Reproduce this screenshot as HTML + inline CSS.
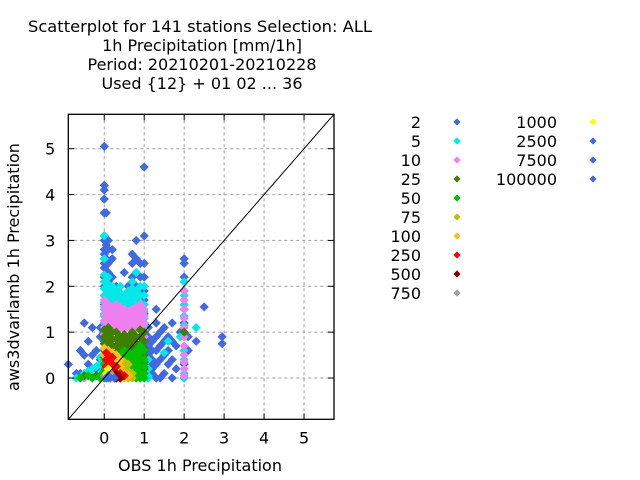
<!DOCTYPE html>
<html><head><meta charset="utf-8"><style>
html,body{margin:0;padding:0;background:#fff;}
svg{display:block;font-family:"DejaVu Sans","Liberation Sans",sans-serif;}
</style></head><body>
<svg id="chart" width="640" height="480" viewBox="0 0 640 480" xmlns="http://www.w3.org/2000/svg">
<g font-size="16" text-anchor="middle" fill="#000">
<text x="200" y="32" textLength="344" lengthAdjust="spacingAndGlyphs">Scatterplot for  141 stations Selection: ALL</text>
<text x="202" y="51">1h Precipitation [mm/1h]</text>
<text x="202" y="70">Period: 20210201-20210228</text>
<text x="202" y="89">Used {12} + 01 02 ... 36</text>
</g>
<g id="grid"></g>
<g id="marks"></g>
<g id="axes"></g>
<g id="legend"></g>
<text x="200" y="471" font-size="16" text-anchor="middle">OBS 1h Precipitation</text>
<text x="0" y="0" font-size="16" text-anchor="middle" transform="translate(19,267) rotate(-90)">aws3dvarlamb 1h Precipitation</text>
</svg>
<script>
const xTicks = [0,1,2,3,4,5];
const yTicks = [0,1,2,3,4,5];
const seriesLabels = ["2","5","10","25","50","75","100","250","500","750","1000","2500","7500","100000"];
const s2 = [[0,[5.05,4.2,4.1,3.9,3.6,3.6,3.1,3.0,2.8,2.7,2.6,2.5,2.4,2.2,2.0,1.8,1.6,1.4,1.2,1.0,0.8,0.6,0.4,0.2,0]],[0.05,[3.6,2.9,2.6]],[0.1,[3.0,2.8,2.5,2.3,2.1,1.9,1.7,1.5,1.3,0.2,0.1]],[0.2,[2.8,2.6,2.2,1.9,1.6,1.2]],[0.3,[2.0,1.7,1.5,1.3]],[0.5,[2.3,1.8,1.6,1.4]],[0.6,[2.0,1.7,1.5]],[0.7,[2.7,2.5,2.2,1.9,1.6]],[0.8,[3.0,2.6,2.3,2.0,1.7]],[0.9,[2.5,2.2,1.9,1.6,1.4]],[1.0,[4.6,3.1,2.5,2.2,1.9,1.7,1.4,1.2,1.0,0.8,0.6,0.4,0.2,0]],[1.1,[1.1,0.9,0.7,0.5,0.3,0.1,0]],[1.2,[0.8,0.6,0.4,0.2,0.1]],[1.3,[1.5,1.2,0.9,0.6,0.3,0]],[1.4,[1.0,0.7,0.4,0]],[1.5,[1.1,0.8,0.5,0.1]],[1.6,[0.9,0.6,0.3]],[1.7,[1.2,0.8,0.4,0]],[1.8,[0.7,0.2]],[1.9,[1.0]],[2.0,[2.6,2.5,2.2,1.9,1.5,1.2,0.9,0.6,0.3,0]],[2.5,[1.55]],[2.95,[0.9,0.75]],[2.3,[0.8]],[2.1,[0.6,0.9]],[-0.9,[0.3]],[-0.6,[0.6,0.1]],[-0.5,[1.2,0.5]],[-0.4,[0.8,0.3]],[-0.3,[0.5,1.1]],[-0.2,[0.6,0.2]],[-0.1,[1.1,0.9,0.4]],[-0.7,[0.1]]];
const s5 = [[0,[3.1,2.6,2.25,2.1,1.95,1.8,1.65,1.5,1.35,1.2,0.3,0.15]],[0.1,[2.2,2.05,1.9,1.75,1.6,1.45,1.3,1.15]],[0.2,[2.0,1.85,1.7,1.55,1.4,1.25,1.1]],[0.3,[1.9,1.75,1.6,1.45,1.3,1.15]],[0.4,[2.0,1.85,1.7,1.55,1.4,1.25,1.1]],[0.5,[1.8,1.65,1.5,1.35,1.2]],[0.6,[1.9,1.75,1.6,1.45,1.3,1.15]],[0.7,[2.1,1.95,1.8,1.65,1.5,1.35,1.2]],[0.8,[2.3,1.9,1.75,1.6,1.45,1.3]],[0.9,[2.0,1.8,1.65,1.5,1.35,1.2]],[1.0,[2.0,1.8,1.6,1.45,1.3,1.15,0.5,0.35,0.2,0.1,0]],[1.1,[0.4,0.2,0.05,0]],[2.0,[2.1,1.8,1.6,1.35,1.15,0.6,0.4,0.2,0.1,0]],[1.6,[0.8]],[1.5,[0.55]],[2.3,[1.1]],[1.9,[0.9]],[-0.7,[0]],[-0.5,[0.1,0]],[-0.4,[0.15]],[-0.3,[0.2,0.05]],[-0.2,[0.25]],[-0.1,[0.3,0.1,0.45]]];
const s10 = [[0,[1.7,1.55,1.4,1.25,1.1,0.95]],[0.1,[1.6,1.45,1.3,1.15,1.0]],[0.2,[1.5,1.35,1.2,1.05]],[0.3,[1.6,1.45,1.3,1.15]],[0.4,[1.55,1.4,1.25,1.1]],[0.5,[1.5,1.35,1.2,1.05]],[0.6,[1.45,1.3,1.15]],[0.7,[1.5,1.35,1.2,1.05]],[0.8,[1.55,1.4,1.25,1.1]],[0.9,[1.6,1.45,1.3,1.15]],[1.0,[1.5,1.35,1.2,1.05,0.9]],[2.0,[1.9,1.7,1.5,1.3,1.1,0.9,0.7,0.5,0.35,0.2,0.05]],[-0.6,[0]],[-0.5,[0]],[-0.2,[0.05]]];
const s25 = [[0,[1.05,0.9,0.75,0.6,0.45,0.3,0.15]],[0.1,[1.1,0.95,0.8,0.65]],[0.2,[1.0,0.85,0.7,0.55]],[0.3,[1.0,0.85,0.7,0.55,0.4]],[0.4,[0.9,0.75,0.6,0.45]],[0.5,[0.95,0.8,0.65,0.5,0.35]],[0.6,[0.9,0.75,0.6,0.45,0.3]],[0.7,[1.0,0.85,0.7,0.55,0.4,0.25]],[0.8,[0.9,0.75,0.6,0.45,0.3,0.15]],[0.9,[1.05,0.9,0.75,0.6,0.45,0.3]],[1.0,[1.0,0.8,0.65,0.5,0.35,0.2]],[2.0,[1.0]],[-0.5,[0.05]],[-0.2,[0.05]]];
const s50 = [[0,[0.6,0.45,0.3,0.15,0]],[0.1,[0.1,0]],[0.3,[0.05,0]],[0.4,[0.5,0.35,0.2,0.05]],[0.5,[0.6,0.45,0.3,0.15,0]],[0.6,[0.55,0.4,0.25,0.1,0]],[0.7,[0.5,0.35,0.2,0.05]],[0.8,[0.6,0.45,0.3,0.15,0]],[0.9,[0.7,0.55,0.4,0.25,0.1,0]],[1.0,[0.6,0.4,0.25,0.1,0]],[-0.6,[0]],[-0.4,[0.05]],[-0.3,[0]],[-0.1,[0.05,0]]];
const s75 = [[0.2,[0.45,0.35]],[0.3,[0.4,0.25,0.1]],[0.4,[0.3,0.15,0]],[0.5,[0.35,0.2,0.05]],[0.6,[0.3,0.15,0]],[0.7,[0.1,0]]];
const s100 = [[0,[0.65,0.5]],[0.1,[0.6,0.45]],[0.2,[0.55,0.4]],[0.3,[0.5,0.35,0.2]],[0.4,[0.4,0.25,0.1]],[0.5,[0.1,0]],[0.6,[0.05]]];
const s250 = [[0.05,[0.55,0.4,0.25,0.1]],[0.1,[0.5,0.35,0.2,0.05]],[0.15,[0.4,0.25]],[0.2,[0.45,0.3,0.15]],[0.3,[0.25,0.1,0]],[0.4,[0.1,0]],[0.5,[0.05]]];
const s500 = [[0.2,[0.05]],[0.3,[0.1,0]],[0.35,[0.05]],[0.4,[0]]];
const s750 = [[0.1,[0.15]],[0,[0.05]],[0.15,[0.1]]];
const s1000 = [[0.1,[0.2]],[0.05,[0.1]]];
const s2500 = [[0.05,[0]],[0.1,[0.05]]];
const s7500 = [[0.15,[0]]];
const s100000 = [[0.25,[0]]];
const allSeries = [s2,s5,s10,s25,s50,s75,s100,s250,s500,s750,s1000,s2500,s7500,s100000];
const colors = ["#4169e1","#00e8e8","#f080f0","#408000","#00c000","#c0c000","#ffc020","#ff0000","#800000","#a0a0a0","#ffff00","#4169e1","#4169e1","#4169e1"];

const NS="http://www.w3.org/2000/svg";
const L=68.3,R=334,T=114.3,B=419.3,MIN=-0.9,MAX=5.75;
const sx=v=>L+(v-MIN)/(MAX-MIN)*(R-L);
const sy=v=>B-(v-MIN)/(MAX-MIN)*(B-T);
function mk(tag,attrs,parent){const e=document.createElementNS(NS,tag);for(const k in attrs)e.setAttribute(k,attrs[k]);parent.appendChild(e);return e;}
function diamond(cx,cy,r){return `${cx},${cy-r} ${cx+r},${cy} ${cx},${cy+r} ${cx-r},${cy}`;}
const grid=document.getElementById('grid'),axes=document.getElementById('axes'),marks=document.getElementById('marks'),legend=document.getElementById('legend');
xTicks.forEach(t=>{
  const g=mk('line',{x1:sx(t),x2:sx(t),y1:T,y2:B,stroke:'#a0a0a0','stroke-dasharray':'3,3','stroke-width':1},grid);
  
  
  mk('line',{x1:sx(t),x2:sx(t),y1:B,y2:B-6,stroke:'#000'},axes);
  mk('line',{x1:sx(t),x2:sx(t),y1:T,y2:T+6,stroke:'#000'},axes);
  const tx=mk('text',{x:sx(t),y:B+24,'font-size':16,'text-anchor':'middle'},axes);
  tx.textContent=t;
  
  
});
yTicks.forEach(t=>{
  const g=mk('line',{x1:L,x2:R,y1:sy(t),y2:sy(t),stroke:'#a0a0a0','stroke-dasharray':'3,3','stroke-width':1},grid);
  
  
  mk('line',{x1:L,x2:L+6,y1:sy(t),y2:sy(t),stroke:'#000'},axes);
  mk('line',{x1:R,x2:R-6,y1:sy(t),y2:sy(t),stroke:'#000'},axes);
  const tx=mk('text',{x:L-13,y:sy(t)+6,'font-size':16,'text-anchor':'end'},axes);
  tx.textContent=t;
  
  
});
const frame=mk('rect',{x:L,y:T,width:R-L,height:B-T,fill:'none',stroke:'#000','stroke-width':1.3},axes);


allSeries.forEach((s,i)=>{
  const g=mk('g',{fill:colors[i]},marks);
  
  
  s.forEach(col=>{col[1].forEach(y=>{
    const p=mk('polygon',{points:diamond(sx(col[0]),sy(y),4.6)},g);
    
    
  });});
});
const diag=mk('line',{x1:sx(MIN),y1:sy(MIN),x2:sx(MAX),y2:sy(MAX),stroke:'#000','stroke-width':1},marks);


seriesLabels.forEach((lab,i)=>{
  const c=i<10?0:1, r=i<10?i:i-10;
  const lx=c?557:421, mx=c?593:457, y=122+r*19;
  const t=mk('text',{x:lx,y:y+6,'font-size':16,'text-anchor':'end'},legend);
  t.textContent=lab;
  
  
  const p=mk('polygon',{points:diamond(mx,y,3.6),fill:colors[i]},legend);
  
  
});
</script>
</body></html>
